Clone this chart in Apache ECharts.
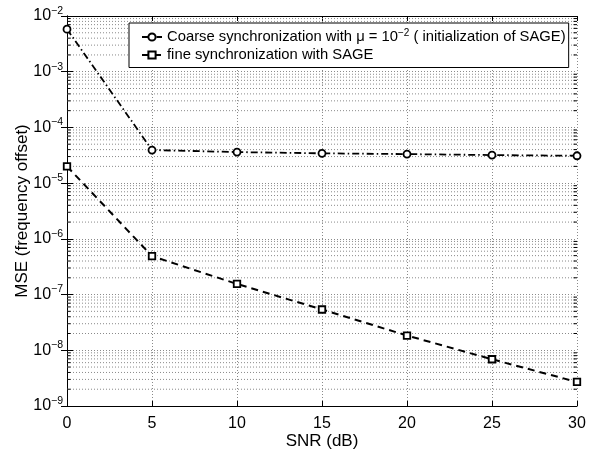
<!DOCTYPE html>
<html>
<head>
<meta charset="utf-8">
<script src="https://cdn.jsdelivr.net/npm/echarts@6/dist/echarts.min.js"></script>
<style>html,body{margin:0;padding:0;background:#fff}#c{width:594px;height:452px}</style>
</head>
<body>
<div id="c"></div>
<script>
var snr = [0, 5, 10, 15, 20, 25, 30];
var coarseMSE = [5.8e-3, 3.93e-5, 3.61e-5, 3.43e-5, 3.32e-5, 3.19e-5, 3.10e-5];
var fineMSE = [2.0e-5, 4.9e-7, 1.55e-7, 5.4e-8, 1.84e-8, 6.9e-9, 2.7e-9];
var xTicks = [0, 5, 10, 15, 20, 25, 30];
var yDecades = [-9, -8, -7, -6, -5, -4, -3, -2];
var coarseName = 'Coarse synchronization with μ = 10{sup|−2} ( initialization of SAGE)';
var fineName = 'fine synchronization with SAGE';

var minorVals = [];
for (var d = 0; d < yDecades.length - 1; d++) {
  for (var m = 2; m <= 9; m++) minorVals.push([m * Math.pow(10, yDecades[d])]);
}

var FONT = 'Liberation Sans, Arial, Helvetica, sans-serif';
var chart = echarts.init(document.getElementById('c'));
var gridColor = '#8a8a8a';

function yLabel(v) {
  var e = Math.round(Math.log10(v));
  return '{b|10}{s|' + (e < 0 ? '−' + (-e) : e) + '}';
}

var option = {
  backgroundColor: '#fff',
  animation: false,
  textStyle: { fontFamily: FONT },
  grid: { left: 67, right: 17, top: 16, bottom: 46, containLabel: false, outerBoundsMode: 'none' },
  legend: {
    left: 129, top: 23,
    orient: 'vertical',
    backgroundColor: '#fff',
    borderColor: '#000', borderWidth: 1,
    padding: [5, 3, 5, 12],
    itemWidth: 20, itemHeight: 9, itemGap: 3,
    data: ['coarse', 'fine'],
    formatter: function (n) { return n === 'coarse' ? coarseName : fineName; },
    textStyle: {
      fontFamily: FONT, fontSize: 14.8, color: '#000',
      rich: { sup: { fontSize: 10, fontFamily: FONT, verticalAlign: 'bottom', padding: [0, 0, 8, 0] } }
    }
  },
  xAxis: [{
    type: 'value', min: 0, max: 30, interval: 5,
    name: 'SNR (dB)', nameLocation: 'middle', nameGap: 27, nameMoveOverlap: false,
    nameTextStyle: { fontSize: 17, color: '#000', fontFamily: FONT },
    axisLine: { lineStyle: { color: '#000', width: 1 } },
    axisTick: { inside: true, length: 5, lineStyle: { color: '#000' } },
    axisLabel: { color: '#000', fontSize: 16, margin: 10, fontFamily: FONT },
    splitLine: { show: true, lineStyle: { color: gridColor, type: [1, 2], width: 1 } }
  }, {
    type: 'value', min: 0, max: 30, interval: 5, position: 'top',
    axisLine: { show: true, lineStyle: { color: '#000', width: 1 } },
    axisTick: { inside: true, length: 5, lineStyle: { color: '#000' } },
    axisLabel: { show: false }, splitLine: { show: false }
  }],
  yAxis: [{
    type: 'log', logBase: 10, min: 1e-9, max: 1e-2,
    name: 'MSE (frequency offset)', nameLocation: 'middle', nameGap: 36, nameMoveOverlap: false,
    nameTextStyle: { fontSize: 17, color: '#000', fontFamily: FONT },
    axisLine: { show: true, lineStyle: { color: '#000', width: 1 } },
    axisTick: { show: true, inside: true, length: 6, lineStyle: { color: '#000' } },
    axisLabel: {
      color: '#000', margin: 4, formatter: yLabel,
      rich: {
        b: { fontSize: 16, fontFamily: FONT, color: '#000' },
        s: { fontSize: 10.5, fontFamily: FONT, color: '#000', verticalAlign: 'bottom', padding: [0, 0, 10, 0] }
      }
    },
    splitLine: { show: true, lineStyle: { color: gridColor, type: [1, 2], width: 1 } }
  }, {
    type: 'log', logBase: 10, min: 1e-9, max: 1e-2, position: 'right',
    axisLine: { show: true, lineStyle: { color: '#000', width: 1 } },
    axisTick: { show: true, inside: true, length: 6, lineStyle: { color: '#000' } },
    axisLabel: { show: false }, splitLine: { show: false }
  }],
  series: [{
    name: 'minorgrid', type: 'custom', silent: true, z: 1,
    xAxisIndex: 0, yAxisIndex: 0,
    data: minorVals,
    renderItem: function (params, api) {
      var v = api.value(0);
      var p = api.coord([0, v]);
      var q = api.coord([30, v]);
      return {
        type: 'group',
        children: [
          { type: 'line', shape: { x1: p[0], y1: p[1], x2: q[0], y2: q[1] },
            style: { stroke: gridColor, lineWidth: 1, lineDash: [1, 2] } },
          { type: 'line', shape: { x1: p[0], y1: p[1], x2: p[0] + 3.5, y2: p[1] },
            style: { stroke: '#000', lineWidth: 1 } },
          { type: 'line', shape: { x1: q[0] - 3.5, y1: q[1], x2: q[0], y2: q[1] },
            style: { stroke: '#000', lineWidth: 1 } }
        ]
      };
    }
  }, {
    name: 'coarse', type: 'line', z: 3,
    data: snr.map(function (x, i) { return [x, coarseMSE[i]]; }),
    symbol: 'circle', symbolSize: 7, showSymbol: true,
    itemStyle: { color: '#fff', borderColor: '#000', borderWidth: 1.8 },
    lineStyle: { color: '#000', width: 1.8, type: [7, 3, 1.5, 3] }
  }, {
    name: 'fine', type: 'line', z: 3,
    data: snr.map(function (x, i) { return [x, fineMSE[i]]; }),
    symbol: 'rect', symbolSize: 6.5, showSymbol: true,
    itemStyle: { color: '#fff', borderColor: '#000', borderWidth: 1.8 },
    lineStyle: { color: '#000', width: 2, type: [7, 5] }
  }]
};
chart.setOption(option);
</script>
</body>
</html>
